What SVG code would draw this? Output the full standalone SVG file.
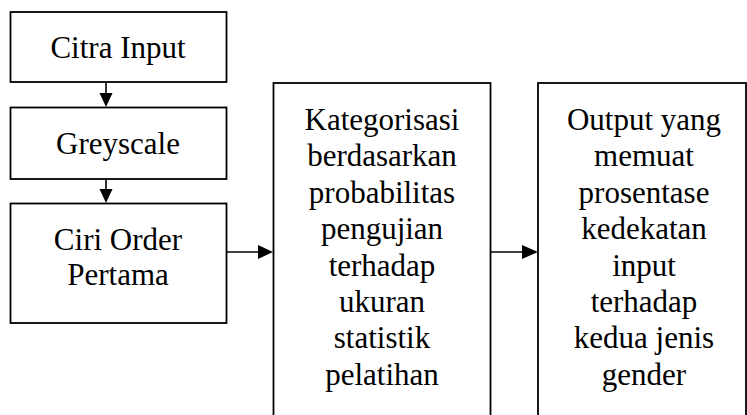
<svg xmlns="http://www.w3.org/2000/svg" width="747" height="415" viewBox="0 0 747 415">
<defs>
<style>
.box{fill:#fff;stroke:#000;stroke-width:1.8}
.t{font-family:"Liberation Serif","Times New Roman",serif;font-size:31px;fill:#000;text-anchor:middle}
.c{stroke:#000;stroke-width:1.6;fill:none}
.h{fill:#000;stroke:none}
</style>
</defs>
<rect width="747" height="415" fill="#fff"/>
<g id="citra-input"><rect class="box" x="10.5" y="12" width="216" height="70"/><text class="t" x="118" y="58">Citra Input</text></g>
<g id="greyscale"><rect class="box" x="10.5" y="107.5" width="216" height="71.5"/><text class="t" x="118" y="154">Greyscale</text></g>
<g id="ciri-order"><rect class="box" x="10.5" y="203.5" width="216" height="119.5"/><text class="t" x="118" y="250">Ciri Order</text><text class="t" x="118" y="285">Pertama</text></g>
<g id="kategorisasi"><rect class="box" x="273.5" y="83" width="217" height="340"/>
<text class="t" x="382" y="130">Kategorisasi</text>
<text class="t" x="382" y="166.4">berdasarkan</text>
<text class="t" x="382" y="202.8">probabilitas</text>
<text class="t" x="382" y="239.2">pengujian</text>
<text class="t" x="382" y="275.6">terhadap</text>
<text class="t" x="382" y="312">ukuran</text>
<text class="t" x="382" y="348.4">statistik</text>
<text class="t" x="382" y="384.8">pelatihan</text></g>
<g id="output"><rect class="box" x="538" y="83" width="208" height="340"/>
<text class="t" x="644" y="130">Output yang</text>
<text class="t" x="644" y="166.4">memuat</text>
<text class="t" x="644" y="202.8">prosentase</text>
<text class="t" x="644" y="239.2">kedekatan</text>
<text class="t" x="644" y="275.6">input</text>
<text class="t" x="644" y="312">terhadap</text>
<text class="t" x="644" y="348.4">kedua jenis</text>
<text class="t" x="644" y="384.8">gender</text></g>
<g id="connectors">
<line class="c" x1="106" y1="82" x2="106" y2="94"/><polygon class="h" points="99.5,93 112.5,93 106,107"/>
<line class="c" x1="106" y1="179" x2="106" y2="190"/><polygon class="h" points="99.5,189 112.5,189 106,203"/>
<line class="c" x1="226.5" y1="252" x2="259" y2="252"/><polygon class="h" points="258,245 258,259 273,252"/>
<line class="c" x1="490.5" y1="252" x2="523" y2="252"/><polygon class="h" points="522,245 522,259 538,252"/>
</g>
</svg>
